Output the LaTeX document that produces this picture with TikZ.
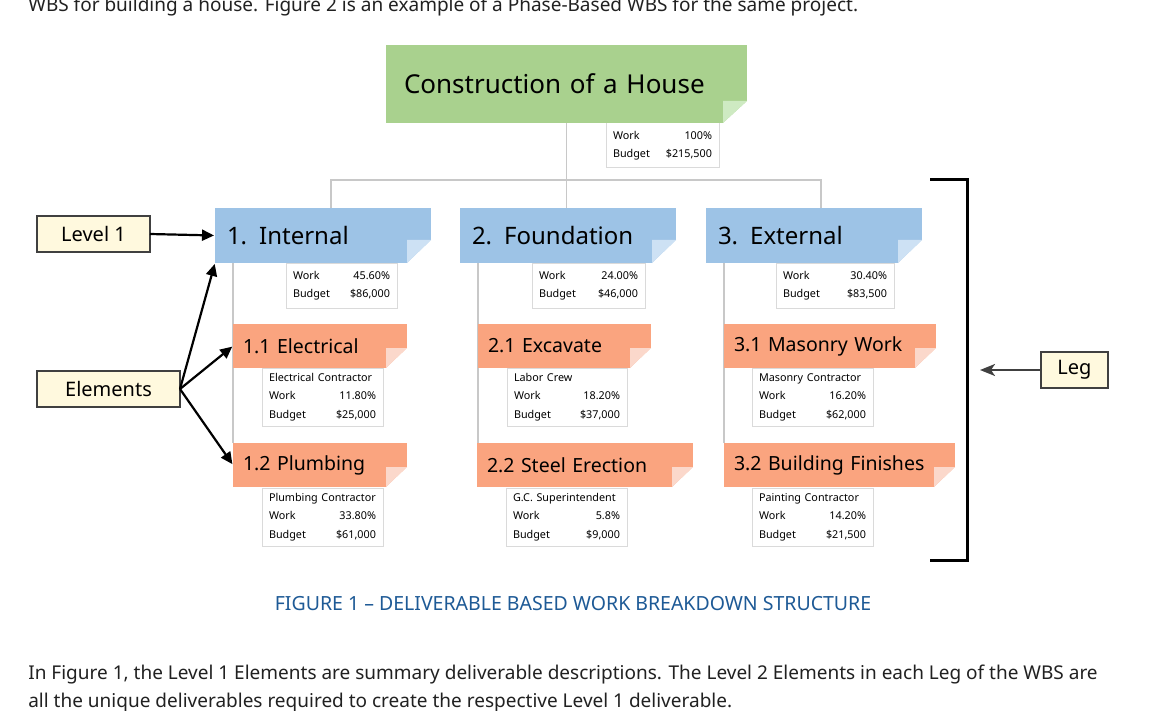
\documentclass[tikz,border=0pt]{standalone}
\usepackage{fontspec}
\setmainfont{Noto Sans}
\newfontfamily\pagefont{Noto Sans}
\usetikzlibrary{arrows.meta, positioning, calc}
\definecolor{wbsGreen}{RGB}{169,209,142}
\definecolor{wbsGreenFold}{RGB}{206,234,194}
\definecolor{wbsBlue}{RGB}{157,195,230}
\definecolor{wbsBlueFold}{RGB}{205,225,244}
\definecolor{wbsOrange}{RGB}{250,164,127}
\definecolor{wbsOrangeFold}{RGB}{251,216,203}
\definecolor{noteYellow}{RGB}{255,249,222}
\definecolor{lineGray}{RGB}{200,200,200}
\definecolor{infoGray}{RGB}{218,218,218}
\definecolor{capBlue}{RGB}{30,90,150}
\definecolor{textDark}{RGB}{33,33,33}
\pgfdeclarelayer{bg}
\pgfsetlayers{bg,main}
\newcommand{\infofill}{\hskip 0pt plus 1filll}

\begin{document}
\begin{tikzpicture}[x=1pt, y=-1pt,
		every node/.style={inner ysep=0pt, outer sep=0pt, text=black},
		housebox/.style={anchor=north west, fill=wbsGreen, text width=325pt, inner xsep=18pt, minimum height=78pt, align=left, font=\fontsize{26}{26}\selectfont},
		levelbox/.style={anchor=north west, fill=wbsBlue, text width=192pt, inner xsep=12pt, minimum height=55pt, align=left, font=\fontsize{24}{24}\selectfont},
		taskbox/.style={anchor=north west, fill=wbsOrange, text width=#1, inner xsep=10pt, minimum height=44pt, align=left, font=\fontsize{19.5}{19.5}\selectfont},
		infobox/.style={anchor=north west, draw=infoGray, fill=white, line width=1pt, text width=#1, inner xsep=7pt, minimum height=45pt, align=left, font=\fontsize{10.8}{18.5}\selectfont},
		notebox/.style={anchor=north west, draw=black!75, fill=noteYellow, line width=1.2pt, minimum height=36pt, font=\fontsize{20}{20}\selectfont},
		treeline/.style={lineGray, line width=1.5pt},
		pointer/.style={line width=2.2pt, shorten >=1pt, -{Triangle[length=12pt, width=11pt]}},
		pagetext/.style={anchor=base west, text=textDark, font=\pagefont\fontsize{19}{19}\selectfont},
	]
	\useasboundingbox (0,0) rectangle (1158,711);
	% Info boxes (work share and budget)
	\node[infobox=99pt] (rootInfo) at (606,123) {Work\infofill 100\%\\Budget\infofill \$215,500};
	\node[infobox=97pt] (intInfo) at (286,263) {Work\infofill 45.60\%\\Budget\infofill \$86,000};
	\node[infobox=99pt] (fndInfo) at (532,263) {Work\infofill 24.00\%\\Budget\infofill \$46,000};
	\node[infobox=104pt] (extInfo) at (776,263) {Work\infofill 30.40\%\\Budget\infofill \$83,500};
	\node[infobox=107pt, minimum height=58pt] (eleInfo) at (262,368) {Electrical Contractor\\Work\infofill 11.80\%\\Budget\infofill \$25,000};
	\node[infobox=107pt, minimum height=58pt] (plmInfo) at (262,488) {Plumbing Contractor\\Work\infofill 33.80\%\\Budget\infofill \$61,000};
	\node[infobox=106pt, minimum height=58pt] (excInfo) at (507,368) {Labor Crew\\Work\infofill 18.20\%\\Budget\infofill \$37,000};
	\node[infobox=107pt, minimum height=58pt] (stlInfo) at (506,488) {G.C. Superintendent\\Work\infofill 5.8\%\\Budget\infofill \$9,000};
	\node[infobox=107pt, minimum height=58pt] (masInfo) at (752,368) {Masonry Contractor\\Work\infofill 16.20\%\\Budget\infofill \$62,000};
	\node[infobox=107pt, minimum height=58pt] (finInfo) at (752,488) {Painting Contractor\\Work\infofill 14.20\%\\Budget\infofill \$21,500};
	% Level 0
	\node[housebox] (root) at (386,45) {Construction of a House};
	% Level 1
	\node[levelbox] (int) at (215,208) {1. Internal};
	\node[levelbox] (fnd) at (460,208) {2. Foundation};
	\node[levelbox] (ext) at (706,208) {3. External};
	% Level 2
	\node[taskbox=154pt] (ele) at (233,324) {1.1 Electrical};
	\node[taskbox=154pt] (plm) at (233,443) {1.2 Plumbing};
	\node[taskbox=153pt] (exc) at (478,324) {2.1 Excavate};
	\node[taskbox=196pt] (stl) at (477,443) {2.2 Steel Erection};
	\node[taskbox=192pt] (mas) at (724,324) {3.1 Masonry Work};
	\node[taskbox=211pt] (fin) at (724,443) {3.2 Building Finishes};
	% Folded corners
	\foreach \n/\c/\w/\h in {root/wbsGreenFold/24/22, int/wbsBlueFold/24/23, fnd/wbsBlueFold/24/23, ext/wbsBlueFold/24/23,
			ele/wbsOrangeFold/21/20, plm/wbsOrangeFold/21/20, exc/wbsOrangeFold/21/20, stl/wbsOrangeFold/21/20,
			mas/wbsOrangeFold/21/20, fin/wbsOrangeFold/21/20} {
		\fill[white] (\n.south east) -- ++(0,-\h) -- ++(-\w,\h) -- cycle;
		\fill[\c] ($(\n.south east)+(-\w,-\h)$) -- ++(\w,0) -- ++(-\w,\h) -- cycle;
	}
	% Tree connectors
	\begin{pgfonlayer}{bg}
		\fill[white] (0,0) rectangle (1158,711);
		\coordinate (bus) at ($(root.south)+(0,57)$);
		\draw[treeline] (root.south) -- (bus);
		\draw[treeline] ([xshift=8pt]int.north) |- (bus) -| ([xshift=7pt]ext.north);
		\draw[treeline] (bus) -- (bus |- fnd.north);
		\draw[treeline] (int.south -| ele.west) -- (plm.north west);
		\draw[treeline] (fnd.south -| exc.west) -- (stl.north -| exc.west);
		\draw[treeline] (ext.south -| mas.west) -- (fin.north west);
	\end{pgfonlayer}
	% Callouts
	\node[notebox, minimum width=113pt] (lvl) at (37,216) {Level 1};
	\node[notebox, minimum width=143pt] (elm) at (37,371) {Elements};
	\node[notebox, minimum width=67pt] (leg) at (1041,352) {Leg};
	\draw[pointer] (lvl.east) -- (int.west);
	\draw[pointer] (elm.east) -- (int.south west);
	\draw[pointer] (elm.east) -- (ele.west);
	\draw[pointer] (elm.east) -- (plm.west);
	% Leg bracket
	\coordinate (legTop) at (930,180);
	\coordinate (legBot) at (930,560);
	\coordinate (legTip) at (980,370);
	\draw[line width=3pt] (legTop) -- ++(37,0) |- (legBot);
	\draw[draw=black!75, line width=2pt, -{Stealth[length=15pt, width=12pt, inset=4pt]}] (leg.west) -- (legTip);
	% Page text
	\node[pagetext] (intro) at (25,12) {WBS for building a house. Figure 2 is an example of a Phase-Based WBS for the same project.};
	\node[anchor=base, font=\pagefont\fontsize{19.5}{19.5}\selectfont, text=capBlue] (caption) at (573,610) {FIGURE 1 – DELIVERABLE BASED WORK BREAKDOWN STRUCTURE};
	\node[pagetext] (body1) at (25,679) {In Figure 1, the Level 1 Elements are summary deliverable descriptions. The Level 2 Elements in each Leg of the WBS are};
	\node[pagetext] (body2) at (25,707) {all the unique deliverables required to create the respective Level 1 deliverable.};
\end{tikzpicture}
\end{document}
